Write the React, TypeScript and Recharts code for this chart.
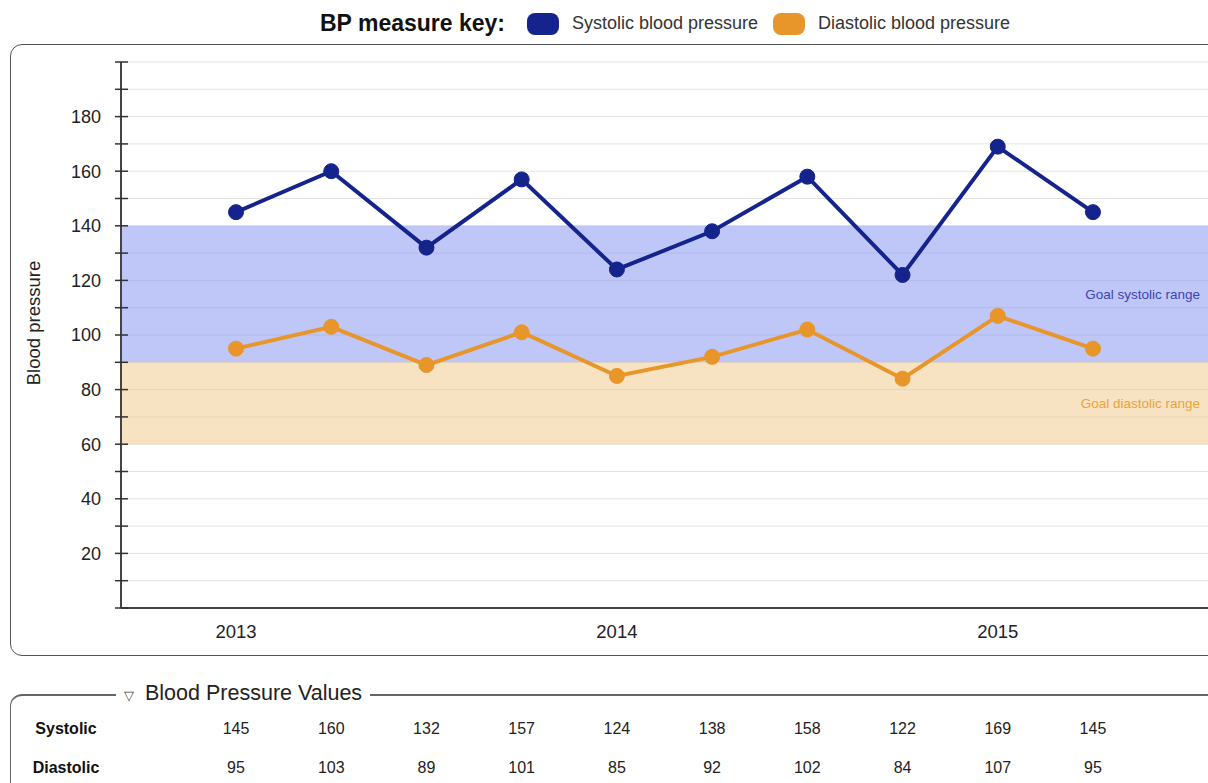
import React from "react";
import {
  LineChart,
  Line,
  XAxis,
  YAxis,
  CartesianGrid,
  ReferenceArea,
} from "recharts";

// readings, one per visit
const readings = [0, 1, 2, 3, 4, 5, 6, 7, 8, 9];
const systolic = [145, 160, 132, 157, 124, 138, 158, 122, 169, 145];
const diastolic = [95, 103, 89, 101, 85, 92, 102, 84, 107, 95];

const yearTicks = [0, 4, 8];
const yearLabels = ["2013", "2014", "2015"];

const yTicks = [0, 10, 20, 30, 40, 50, 60, 70, 80, 90, 100, 110, 120, 130, 140, 150, 160, 170, 180, 190, 200];
const yLabeled = [20, 40, 60, 80, 100, 120, 140, 160, 180];

const systolicGoal = [90, 140];
const diastolicGoal = [60, 90];

const data = readings.map((r, i) => ({
  reading: r,
  systolic: systolic[i],
  diastolic: diastolic[i],
}));

const FONT = "'Liberation Sans', Arial, Helvetica, sans-serif";
const NAVY = "#15238c";
const ORANGE = "#e8952a";

const CHART_W = 1230;
const CHART_H = 660;
const MARGIN = { top: 62, right: 20, bottom: 22, left: 0 };
const Y_AXIS_W = 121;
const X_DOMAIN: [number, number] = [-1.208, 10.229];

// same mapping the x axis uses, so the table columns line up with the points
const plotLeft = MARGIN.left + Y_AXIS_W;
const plotWidth = CHART_W - MARGIN.right - plotLeft;
const colX = (i: number) =>
  plotLeft + ((i - X_DOMAIN[0]) / (X_DOMAIN[1] - X_DOMAIN[0])) * plotWidth;

function YTick(props: any) {
  const { x, y, payload } = props;
  const v = payload.value;
  return (
    <g>
      <line x1={x - 6} x2={x + 7} y1={y} y2={y} stroke="#333" strokeWidth={1.5} />
      {yLabeled.includes(v) && (
        <text
          x={x - 20}
          y={y}
          dy="0.35em"
          textAnchor="end"
          fontSize={18}
          fill="#222"
          fontFamily={FONT}
        >
          {v}
        </text>
      )}
    </g>
  );
}

function YLabel(props: any) {
  const { viewBox } = props;
  const cx = viewBox.x + 34;
  const cy = viewBox.y + viewBox.height / 2 - 12;
  return (
    <text
      x={cx}
      y={cy}
      transform={`rotate(-90 ${cx} ${cy})`}
      textAnchor="middle"
      dy="0.35em"
      fontSize={18.5}
      fill="#222"
      fontFamily={FONT}
    >
      Blood pressure
    </text>
  );
}

const swatch = (color: string, left: number): React.CSSProperties => ({
  position: "absolute",
  left,
  top: 13,
  width: 32,
  height: 22,
  borderRadius: 8,
  background: color,
});

export default function App() {
  return (
    <div
      style={{
        position: "absolute",
        left: 0,
        top: 0,
        width: 1208,
        height: 783,
        overflow: "hidden",
        background: "#fff",
        fontFamily: FONT,
        color: "#222",
      }}
    >
      {/* key */}
      <div style={{ position: "absolute", left: 320, top: 10, fontSize: 23, fontWeight: "bold", color: "#111" }}>
        BP measure key:
      </div>
      <div style={swatch(NAVY, 527)} />
      <div style={{ position: "absolute", left: 572, top: 13, fontSize: 18, color: "#333" }}>
        Systolic blood pressure
      </div>
      <div style={swatch(ORANGE, 773)} />
      <div style={{ position: "absolute", left: 818, top: 13, fontSize: 18, color: "#333" }}>
        Diastolic blood pressure
      </div>

      {/* chart frame */}
      <div
        style={{
          position: "absolute",
          left: 10,
          top: 44,
          width: 1260,
          height: 610,
          border: "1.5px solid #555",
          borderRadius: 12,
        }}
      />

      <div style={{ position: "absolute", left: 0, top: 0 }}>
        <LineChart width={CHART_W} height={CHART_H} data={data} margin={MARGIN}>
          <CartesianGrid vertical={false} stroke="#e2e2e2" strokeWidth={1} />
          <ReferenceArea
            y1={systolicGoal[0]}
            y2={systolicGoal[1]}
            fill="#8090f4"
            fillOpacity={0.5}
            stroke="none"
            label={{
              value: "Goal systolic range",
              position: "insideRight",
              offset: 10,
              fill: "#3b44b3",
              fontSize: 13.5,
              fontFamily: FONT,
            }}
          />
          <ReferenceArea
            y1={diastolicGoal[0]}
            y2={diastolicGoal[1]}
            fill="#efc583"
            fillOpacity={0.5}
            stroke="none"
            label={{
              value: "Goal diastolic range",
              position: "insideRight",
              offset: 10,
              fill: "#eaa23e",
              fontSize: 13.5,
              fontFamily: FONT,
            }}
          />
          <XAxis
            dataKey="reading"
            type="number"
            domain={X_DOMAIN}
            ticks={yearTicks}
            tickFormatter={(v: number) => yearLabels[yearTicks.indexOf(v)]}
            tickLine={false}
            tickSize={0}
            tickMargin={17}
            axisLine={{ stroke: "#444", strokeWidth: 2 }}
            tick={{ fontSize: 18.5, fill: "#222", fontFamily: FONT }}
            allowDataOverflow
          />
          <YAxis
            type="number"
            domain={[0, 200]}
            ticks={yTicks}
            width={Y_AXIS_W}
            tickLine={false}
            tickSize={0}
            tickMargin={0}
            interval={0}
            axisLine={{ stroke: "#444", strokeWidth: 2 }}
            tick={<YTick />}
            label={<YLabel />}
          />
          <Line
            dataKey="systolic"
            stroke={NAVY}
            strokeWidth={4}
            dot={{ r: 7.5, fill: NAVY, stroke: NAVY, strokeWidth: 1 }}
            isAnimationActive={false}
          />
          <Line
            dataKey="diastolic"
            stroke={ORANGE}
            strokeWidth={4}
            dot={{ r: 7.5, fill: ORANGE, stroke: ORANGE, strokeWidth: 1 }}
            isAnimationActive={false}
          />
        </LineChart>
      </div>

      {/* values table */}
      <div
        style={{
          position: "absolute",
          left: 10,
          top: 694,
          width: 1260,
          height: 120,
          borderTop: "2px solid #666",
          borderLeft: "1.5px solid #666",
          borderTopLeftRadius: 12,
        }}
      />
      <div
        style={{
          position: "absolute",
          left: 116,
          top: 681,
          padding: "0 8px 0 8px",
          background: "#fff",
          fontSize: 21.5,
          color: "#222",
          whiteSpace: "nowrap",
        }}
      >
        <span style={{ fontSize: 13, marginRight: 11, color: "#444" }}>▽</span>
        Blood Pressure Values
      </div>
      {[
        { name: "Systolic", values: systolic, y: 729 },
        { name: "Diastolic", values: diastolic, y: 768 },
      ].map((row) => (
        <React.Fragment key={row.name}>
          <div
            style={{
              position: "absolute",
              left: 66,
              top: row.y,
              transform: "translate(-50%, -50%)",
              fontSize: 16,
              fontWeight: "bold",
              color: "#111",
            }}
          >
            {row.name}
          </div>
          {row.values.map((v, i) => (
            <div
              key={i}
              style={{
                position: "absolute",
                left: colX(i),
                top: row.y,
                transform: "translate(-50%, -50%)",
                fontSize: 16,
                color: "#222",
              }}
            >
              {v}
            </div>
          ))}
        </React.Fragment>
      ))}
    </div>
  );
}
